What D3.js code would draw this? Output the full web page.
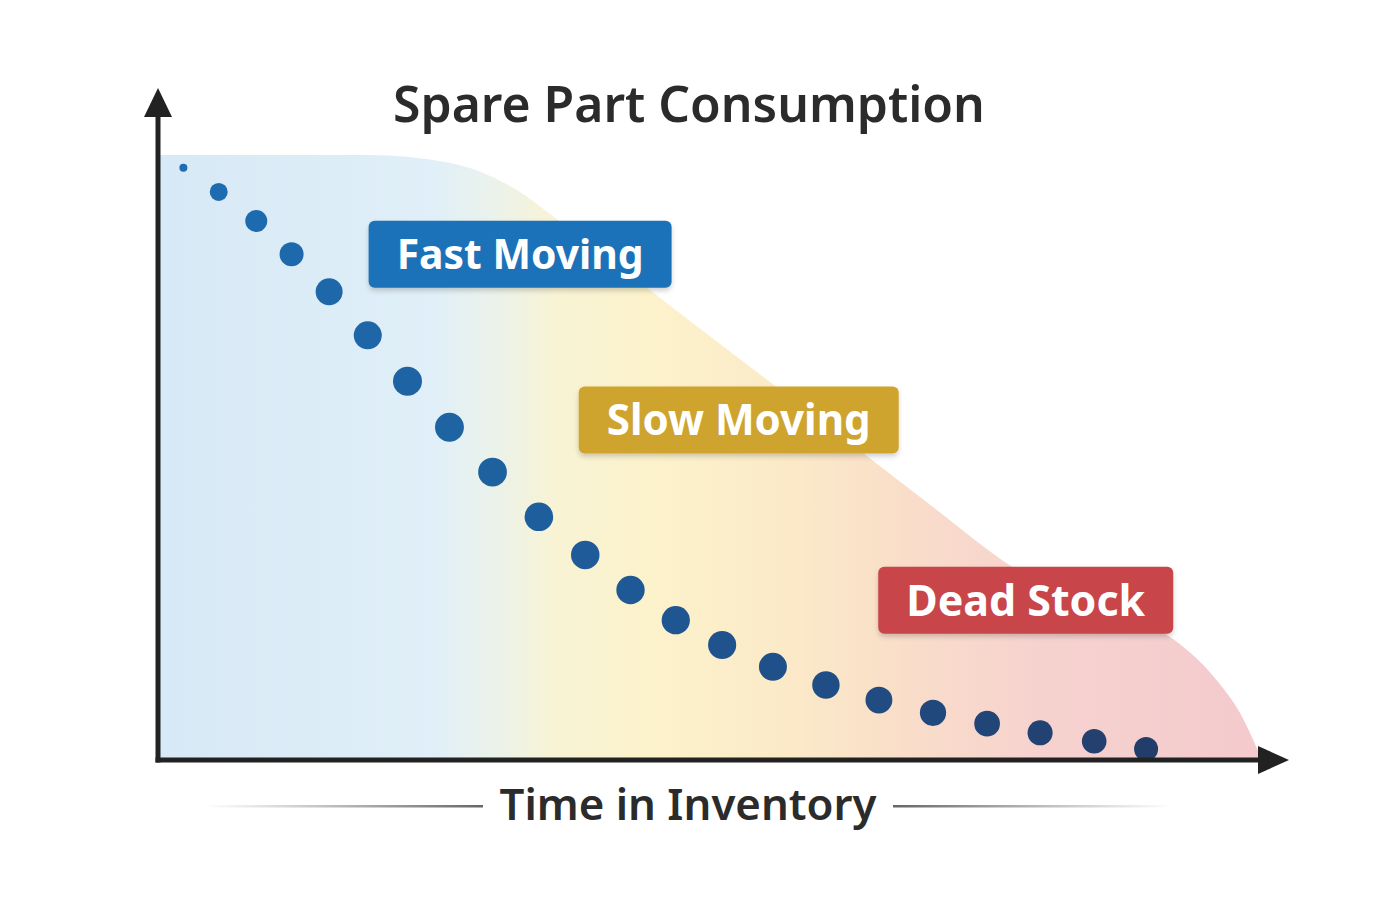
<!DOCTYPE html>
<html lang="en">
<head>
    <meta charset="UTF-8">
    <title>Spare Part Consumption</title>
    <style>
        body, html {
            margin: 0;
            padding: 0;
            width: 100%;
            height: 100%;
            overflow: hidden;
            background: #fff;
        }
        svg {
            display: block;
        }
        text {
            font-family: "Noto Sans", "Open Sans", sans-serif;
        }
    </style>
</head>
<body>
    <script src="https://d3js.org/d3.v7.min.js"></script>
    <script>
        // consumption dots (time in inventory, stock level)
        const dotTime = [2.3, 5.5, 8.9, 12.1, 15.5, 19.0, 22.6, 26.4, 30.3, 34.5, 38.7,
                         42.8, 46.9, 51.1, 55.7, 60.5, 65.3, 70.2, 75.1, 79.9, 84.8, 89.5];
        const dotLevel = [97.9, 93.9, 89.1, 83.6, 77.4, 70.2, 62.6, 55.0, 47.6, 40.2, 33.9,
                          28.1, 23.1, 19.0, 15.4, 12.4, 9.9, 7.8, 6.0, 4.5, 3.1, 1.8];

        // outline of the shaded band
        const areaTime = [0, 19.2, 26.4, 32.5, 36.2, 47.6, 55.2, 63.6, 70.2, 77.4,
                          85.3, 92.1, 95.9, 98.0, 99.5, 100];
        const areaLevel = [100, 100, 98.7, 94.2, 89.3, 73.4, 62.8, 51.1, 41.8, 31.9,
                           24.6, 19.8, 13.2, 7.8, 2.1, 0];

        // category tags, centred at (time, level)
        const tagNames = ["Fast Moving", "Slow Moving", "Dead Stock"];
        const tagTime = [32.8, 52.6, 78.6];
        const tagLevel = [83.6, 56.2, 26.4];
        const tagColors = ["#1c72b8", "#cea42e", "#c8444a"];

        const title = "Spare Part Consumption";
        const xTitle = "Time in Inventory";

        const width = 1379;
        const height = 919;

        const x = d3.scaleLinear().domain([0, 100]).range([158, 1262]);
        const y = d3.scaleLinear().domain([0, 100]).range([760, 155]);

        const svg = d3.select("body").append("svg")
            .attr("width", width)
            .attr("height", height);

        const defs = svg.append("defs");

        const grad = defs.append("linearGradient")
            .attr("id", "band")
            .attr("gradientUnits", "userSpaceOnUse")
            .attr("x1", x(0)).attr("x2", x(100))
            .attr("y1", 0).attr("y2", 0);
        [
            [0, "#d7e9f6"], [0.25, "#e0eff8"], [0.30, "#eaf2ec"], [0.36, "#f8f3d4"],
            [0.45, "#fcf2cb"], [0.58, "#fbe9c8"], [0.68, "#f9ddc9"], [0.80, "#f6d2cf"],
            [1, "#f4cacd"]
        ].forEach(s => grad.append("stop").attr("offset", s[0]).attr("stop-color", s[1]));

        const shadow = defs.append("filter")
            .attr("id", "shadow")
            .attr("x", "-10%").attr("y", "-20%")
            .attr("width", "120%").attr("height", "150%");
        shadow.append("feDropShadow")
            .attr("dx", 0).attr("dy", 3)
            .attr("stdDeviation", 2.5)
            .attr("flood-color", "#000")
            .attr("flood-opacity", 0.18);

        // fading rules either side of the x title
        const fadeL = defs.append("linearGradient").attr("id", "fadeL");
        fadeL.append("stop").attr("offset", 0).attr("stop-color", "#777").attr("stop-opacity", 0);
        fadeL.append("stop").attr("offset", 1).attr("stop-color", "#666").attr("stop-opacity", 1);
        const fadeR = defs.append("linearGradient").attr("id", "fadeR");
        fadeR.append("stop").attr("offset", 0).attr("stop-color", "#666").attr("stop-opacity", 1);
        fadeR.append("stop").attr("offset", 1).attr("stop-color", "#777").attr("stop-opacity", 0);

        // shaded band
        const bandData = areaTime.map((t, i) => ({ t: t, v: areaLevel[i] }));
        const area = d3.area()
            .x(d => x(d.t))
            .y0(y(0))
            .y1(d => y(d.v))
            .curve(d3.curveMonotoneX);

        svg.append("path")
            .datum(bandData)
            .attr("d", area)
            .attr("fill", "url(#band)");

        // dots
        const dots = dotTime.map((t, i) => ({ t: t, v: dotLevel[i], i: i }));
        const rScale = d3.scaleLinear()
            .domain([0, 1, 2, 3, 4, 6, 14, 21])
            .range([4, 9, 11, 12, 13.5, 14.5, 14, 12]);
        const cScale = d3.scaleLinear()
            .domain([0, 8, 14, 21])
            .range(["#1d6db3", "#1e619f", "#20508a", "#233d6a"]);

        svg.selectAll(".dot")
            .data(dots)
            .enter().append("circle")
            .attr("class", "dot")
            .attr("cx", d => x(d.t))
            .attr("cy", d => y(d.v))
            .attr("r", d => rScale(d.i))
            .attr("fill", d => cScale(d.i));

        // axes
        const axisColor = "#222";
        svg.append("line")
            .attr("x1", x(0)).attr("y1", y(0) + 2.5)
            .attr("x2", x(0)).attr("y2", 112)
            .attr("stroke", axisColor).attr("stroke-width", 5);
        svg.append("path")
            .attr("d", `M${x(0)},88 L${x(0) + 14},117 L${x(0) - 14},117 Z`)
            .attr("fill", axisColor);
        svg.append("line")
            .attr("x1", x(0) - 2.5).attr("y1", y(0))
            .attr("x2", 1262).attr("y2", y(0))
            .attr("stroke", axisColor).attr("stroke-width", 5);
        svg.append("path")
            .attr("d", `M1289,${y(0)} L1258,${y(0) - 14} L1258,${y(0) + 14} Z`)
            .attr("fill", axisColor);

        // scale font size so the text spans a given width
        function fitText(sel, target) {
            const fs = parseFloat(sel.style("font-size"));
            const len = sel.node().getComputedTextLength();
            sel.style("font-size", (fs * target / len) + "px");
            return fs * target / len;
        }

        // tags
        const tagTargets = [247, 264, 239];
        tagNames.forEach((name, i) => {
            const cx = x(tagTime[i]);
            const cy = y(tagLevel[i]);
            const g = svg.append("g");
            const rect = g.append("rect")
                .attr("rx", 6)
                .attr("fill", tagColors[i])
                .attr("filter", "url(#shadow)");
            const t = g.append("text")
                .attr("x", cx)
                .attr("text-anchor", "middle")
                .attr("fill", "#fff")
                .style("font-weight", 700)
                .style("font-size", "44px")
                .text(name);
            const fs = fitText(t, tagTargets[i]);
            t.attr("y", cy + fs * 0.357);
            const w = tagTargets[i] + 56;
            const h = 67;
            rect.attr("x", cx - w / 2).attr("y", cy - h / 2)
                .attr("width", w).attr("height", h);
        });

        // title
        const titleText = svg.append("text")
            .attr("x", 689)
            .attr("y", 122)
            .attr("text-anchor", "middle")
            .attr("fill", "#2b2b2b")
            .style("font-weight", 600)
            .style("font-size", "50px")
            .text(title);
        fitText(titleText, 592);

        // x title with rules
        const xt = svg.append("text")
            .attr("x", 688)
            .attr("y", 820)
            .attr("text-anchor", "middle")
            .attr("fill", "#2b2b2b")
            .style("font-weight", 600)
            .style("font-size", "44px")
            .text(xTitle);
        fitText(xt, 377);

        svg.append("rect")
            .attr("x", 205).attr("y", 805)
            .attr("width", 278).attr("height", 2.5)
            .attr("fill", "url(#fadeL)");
        svg.append("rect")
            .attr("x", 893).attr("y", 805)
            .attr("width", 280).attr("height", 2.5)
            .attr("fill", "url(#fadeR)");
    </script>
</body>
</html>
